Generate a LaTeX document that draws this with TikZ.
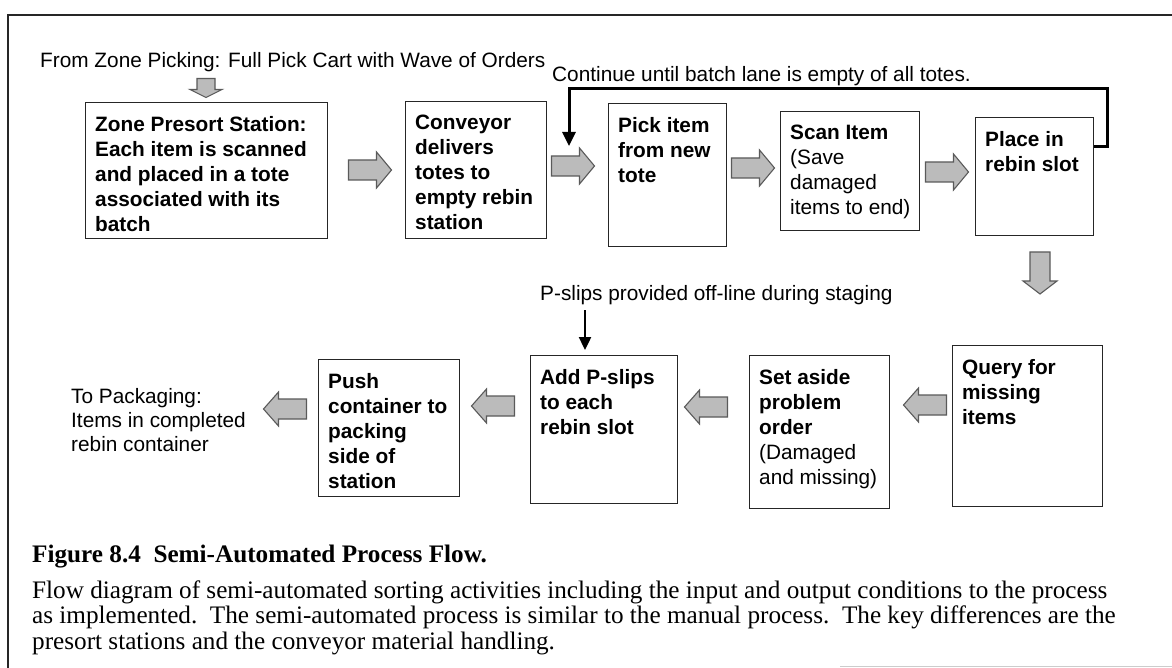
\documentclass[tikz,border=0pt]{standalone}
\usepackage{fontspec}
\setmainfont{Liberation Serif}
\newfontfamily\arialf{Liberation Sans}
\usetikzlibrary{calc,arrows.meta}
\definecolor{arrowfill}{HTML}{BBBBBB}
\definecolor{arrowdraw}{HTML}{5A5A5A}
\begin{document}
\begin{tikzpicture}[x=1pt,y=-1pt,
  box/.style={draw=black!85, line width=1.4pt, rectangle, inner sep=0pt, anchor=north west},
  btxt/.style={anchor=north west, inner sep=0pt, align=left, font=\arialf\fontsize{20.8}{25}\selectfont},
  rtxt/.style={inner sep=0pt, align=left, font=\arialf\fontsize{20.8}{24}\selectfont},
  captitle/.style={anchor=west, inner sep=0pt, font=\bfseries\fontsize{25.2}{26}\selectfont},
  capline/.style={anchor=west, inner sep=0pt, font=\fontsize{25.2}{26}\selectfont},
  blockarrow/.style={fill=arrowfill, draw=arrowdraw, line width=1.1pt, line join=miter},
  fbline/.style={draw=black, line width=3pt, -{Triangle[length=14pt,width=13pt]}},
  psline/.style={draw=black, line width=2.4pt, -{Triangle[length=13pt,width=12pt]}},
  pics/blk/.style n args={4}{code={
    \path[blockarrow] (-#1/2,-#3/2) -- (#1/2-#4,-#3/2) -- (#1/2-#4,-#2/2) -- (#1/2,0)
      -- (#1/2-#4,#2/2) -- (#1/2-#4,#3/2) -- (-#1/2,#3/2) -- cycle;
  }}
]
\useasboundingbox (0,0) rectangle (1172,668);
\fill[white] (0,0) rectangle (1172,668);
% frame
\draw[line width=1.6pt, black!85] (1172,15) -- (8,15) -- (8,668);
\draw[line width=1pt, black!20] (840,666) -- (1172,666);

% top texts
\node[rtxt, anchor=west] (from) at (40,62) {From Zone Picking: Full Pick Cart with Wave of Orders};
\node[rtxt, anchor=west] (cont) at (552,76) {Continue until batch lane is empty of all totes.};

% boxes row 1
\node[box, minimum width=242pt, minimum height=136pt] (b1) at (85,102) {};
\node[box, minimum width=141pt, minimum height=137pt] (b2) at (405,101) {};
\node[box, minimum width=118pt, minimum height=143pt] (b3) at (608,103) {};
\node[box, minimum width=139pt, minimum height=119pt] (b4) at (780,111) {};
\node[box, minimum width=118pt, minimum height=118pt] (b5) at (975,117) {};
% boxes row 2
\node[box, minimum width=150pt, minimum height=161pt] (b6) at (952,345) {};
\node[box, minimum width=140pt, minimum height=153pt] (b7) at (749,355) {};
\node[box, minimum width=147pt, minimum height=148pt] (b8) at (530,355) {};
\node[box, minimum width=141pt, minimum height=137pt] (b9) at (318,359) {};

% box texts
\node[btxt] (t1) at ($(b1.north west)+(10,14)$) {\bfseries Zone Presort Station:\\\bfseries Each item is scanned\\\bfseries and placed in a tote\\\bfseries associated with its\\\bfseries batch};
\node[btxt] (t2) at ($(b2.north west)+(10,14)$) {\bfseries Conveyor\\\bfseries delivers\\\bfseries totes to\\\bfseries empty rebin\\\bfseries station};
\node[btxt] (t3) at ($(b3.north west)+(10,14)$) {\bfseries Pick item\\\bfseries from new\\\bfseries tote};
\node[btxt] (t4) at ($(b4.north west)+(10,14)$) {\bfseries Scan Item\\(Save\\damaged\\items to end)};
\node[btxt] (t5) at ($(b5.north west)+(10,14)$) {\bfseries Place in\\\bfseries rebin slot};
\node[btxt] (t6) at ($(b6.north west)+(10,14)$) {\bfseries Query for\\\bfseries missing\\\bfseries items};
\node[btxt] (t7) at ($(b7.north west)+(10,14)$) {\bfseries Set aside\\\bfseries problem\\\bfseries order\\(Damaged\\and missing)};
\node[btxt] (t8) at ($(b8.north west)+(10,14)$) {\bfseries Add P-slips\\\bfseries to each\\\bfseries rebin slot};
\node[btxt] (t9) at ($(b9.north west)+(10,14)$) {\bfseries Push\\\bfseries container to\\\bfseries packing\\\bfseries side of\\\bfseries station};

% other texts
\node[rtxt, anchor=west] (ps) at (540,295) {P-slips provided off-line during staging};
\node[rtxt, anchor=west] (pack) at (71,420) {To Packaging:\\Items in completed\\rebin container};

% block arrows
\pic[rotate=-90] at (206,88) {blk={19}{32}{18}{8}};
\pic at (370,170) {blk={43}{36}{20}{15}};
\pic at (573,166) {blk={43}{36}{20}{15}};
\pic at (753,168) {blk={43}{36}{20}{15}};
\pic at (947,172) {blk={43}{36}{20}{15}};
\pic[rotate=-90] at (1040,273) {blk={42}{34}{20}{13}};
\pic[rotate=180] at (925,405) {blk={43}{34}{20}{15}};
\pic[rotate=180] at (706,407) {blk={43}{34}{20}{15}};
\pic[rotate=180] at (493,406) {blk={43}{34}{20}{15}};
\pic[rotate=180] at (285,409) {blk={43}{34}{20}{15}};

% feedback loop
\coordinate (loopend) at (569,146);
\draw[fbline] ($(b5.north east)+(0,30)$) -| (1107,89) -| (loopend);
% P-slips arrow
\coordinate (psa) at (585,310);
\coordinate (psb) at ($(b8.north west)+(55,-5)$);
\draw[psline] (psa) -- (psb);

% caption
\node[captitle] (cap0) at (32,557) {Figure 8.4\ \ Semi-Automated Process Flow.};
\node[capline] (cap1) at (32,592) {Flow diagram of semi-automated sorting activities including the input and output conditions to the process};
\node[capline] (cap2) at (32,617) {as implemented.\ \ The semi-automated process is similar to the manual process.\ \ The key differences are the};
\node[capline] (cap3) at (32,643) {presort stations and the conveyor material handling.};
\end{tikzpicture}
\end{document}
